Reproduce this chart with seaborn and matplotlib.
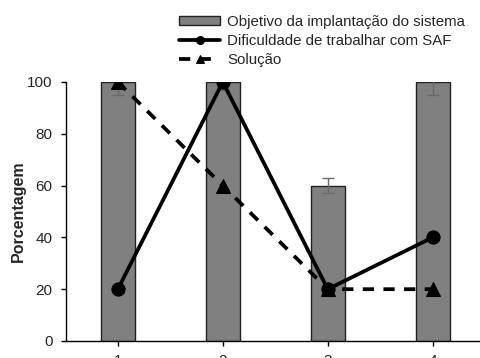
import matplotlib
matplotlib.use("Agg")
import matplotlib.pyplot as plt
import seaborn as sns
import pandas as pd

categories = [1, 2, 3, 4]
objetivo = [100, 100, 60, 100]
objetivo_err = [5, 3, 3, 5]
dificuldade = [20, 100, 20, 40]
solucao = [100, 60, 20, 20]
tick_labels = ["1", "2", "3", "4"]

sns.set_style("ticks")
plt.rcParams['font.family'] = ['Liberation Sans', 'DejaVu Sans']

fig = plt.figure(figsize=(4.81, 3.58), dpi=100)
ax = fig.add_axes([0.137, 0.0475, 0.863, 0.7235])

df = pd.DataFrame({"cat": categories, "obj": objetivo, "dif": dificuldade, "sol": solucao})

sns.barplot(data=df, x="cat", y="obj", native_scale=True, width=0.32,
            color="#808080", edgecolor="#222222", linewidth=1.0, saturation=1,
            errorbar=None, ax=ax, label="Objetivo da implantação do sistema", zorder=1)
ax.errorbar(categories, objetivo, yerr=objetivo_err, fmt="none", ecolor="#6a6a6a",
            elinewidth=1, capsize=4, zorder=2)

sns.lineplot(data=df, x="cat", y="dif", color="black", linewidth=2.7, marker="o",
             markersize=9.5, markeredgecolor="black", ax=ax,
             label="Dificuldade de trabalhar com SAF", zorder=3)
sns.lineplot(data=df, x="cat", y="sol", color="black", linewidth=2.7, marker="^",
             markersize=9.5, markeredgecolor="black", linestyle=(0, (3, 2.5)), ax=ax,
             label="Solução", zorder=3)

ax.set_xlim(0.505, 4.46)
ax.set_ylim(0, 100)
ax.set_yticks([0, 20, 40, 60, 80, 100])
ax.set_xticks(categories)
ax.set_xticklabels(tick_labels)
ax.tick_params(axis="both", labelsize=11, length=3.5, color="black", width=1, pad=6)
for s in ["left", "bottom"]:
    ax.spines[s].set_color("black")
    ax.spines[s].set_linewidth(1)
sns.despine(ax=ax)
ax.set_xlabel("")
ax.set_ylabel("Porcentagem", fontsize=11.5, fontweight="bold", labelpad=1)

h, l = ax.get_legend_handles_labels()
if ax.get_legend() is not None:
    ax.get_legend().remove()
order = [l.index("Objetivo da implantação do sistema"),
         l.index("Dificuldade de trabalhar com SAF"),
         l.index("Solução")]
h = [h[i] for i in order]
l = [l[i] for i in order]
leg = fig.legend(h, l, loc="upper left", bbox_to_anchor=(0.372, 1 - 15 / 358), frameon=False,
                 fontsize=10.8, handlelength=2.75, handletextpad=0.45, labelspacing=0.33,
                 borderaxespad=0.0, borderpad=0.0, markerscale=0.6, handleheight=0.5)

fig.savefig("out.png", dpi=100)
